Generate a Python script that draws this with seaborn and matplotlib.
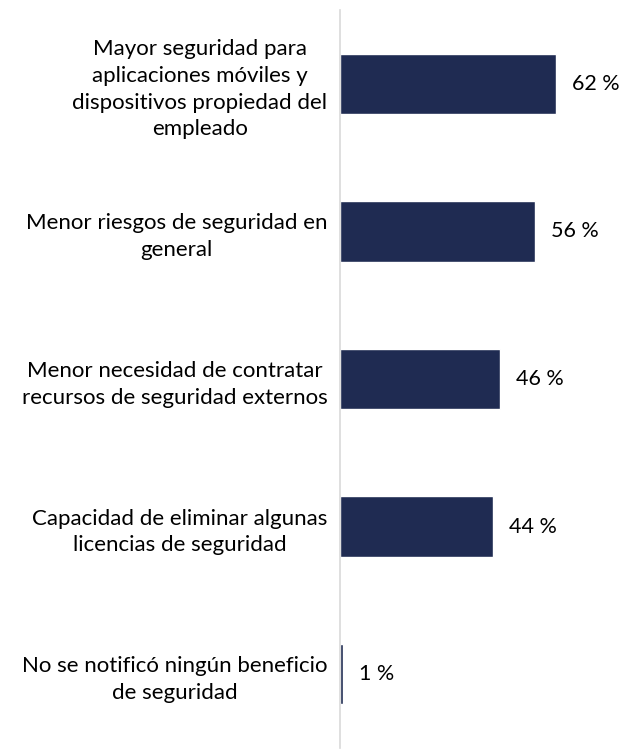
import matplotlib
matplotlib.use("Agg")
import matplotlib.pyplot as plt
import seaborn as sns
import pandas as pd

categorias = [
    "Mayor seguridad para\naplicaciones móviles y\ndispositivos propiedad del\nempleado",
    "Menor riesgos de seguridad en\ngeneral",
    "Menor necesidad de contratar\nrecursos de seguridad externos",
    "Capacidad de eliminar algunas\nlicencias de seguridad",
    "No se notificó ningún beneficio\nde seguridad",
]
valores = [62, 56, 46, 44, 1]
etiquetas = ["62 %", "56 %", "46 %", "44 %", "1 %"]

df = pd.DataFrame({"categoria": categorias, "valor": valores})

sns.set_style("white")
plt.rcParams["font.family"] = ["Lato", "DejaVu Sans"]

fig = plt.figure(figsize=(6.36, 7.51), dpi=100)
ax = fig.add_axes([340 / 636, 3 / 751, 279 / 636, 738 / 751])

sns.barplot(data=df, x="valor", y="categoria", color="#1f2b52", width=0.41,
            saturation=1, ax=ax)

for bar, txt in zip(ax.patches, etiquetas):
    ax.annotate(txt, (bar.get_width(), bar.get_y() + bar.get_height() / 2),
                xytext=(11, 0), textcoords="offset points", va="center",
                ha="left", fontsize=15.5, color="#000000")

ax.set_xlim(0, 80)
ax.set_ylim(4.5, -0.5)
ax.set_xlabel("")
ax.set_ylabel("")
ax.set_xticks([])
for s in ["top", "right", "bottom"]:
    ax.spines[s].set_visible(False)
ax.spines["left"].set_color("#d9d9d9")
ax.spines["left"].set_linewidth(1.2)
ax.tick_params(axis="y", length=0, pad=9)
for lbl in ax.get_yticklabels():
    lbl.set_fontsize(16)
    lbl.set_multialignment("center")
    lbl.set_linespacing(1.42)
    lbl.set_color("#000000")

fig.savefig("out.png", dpi=100)
